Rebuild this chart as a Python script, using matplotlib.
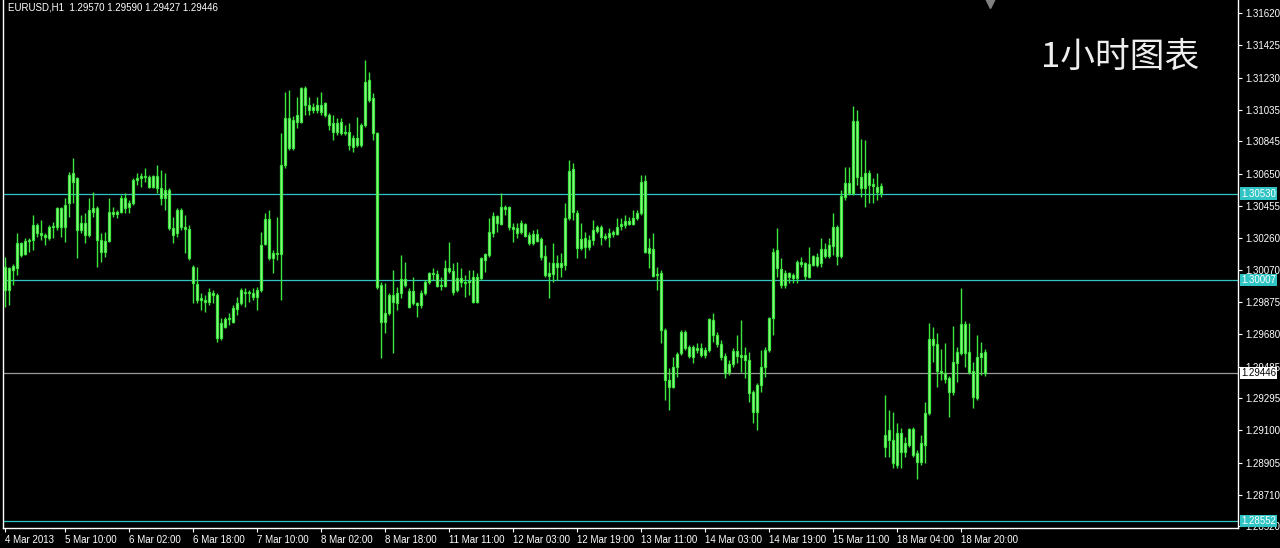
import matplotlib
matplotlib.use("Agg")
import matplotlib.pyplot as plt
import matplotlib.transforms as mtransforms
import numpy as np

# EURUSD H1 bars (left to right)
opens = [
    1.29947, 1.30081, 1.30068, 1.30081, 1.30231, 1.30165, 1.30243, 1.30249, 1.30340, 1.30292,
    1.30280, 1.30262, 1.30328, 1.30328, 1.30443, 1.30328, 1.30473, 1.30654, 1.30624, 1.30310,
    1.30352, 1.30280, 1.30419, 1.30443, 1.30249, 1.30177, 1.30243, 1.30419, 1.30407, 1.30419,
    1.30503, 1.30449, 1.30473, 1.30612, 1.30624, 1.30636, 1.30630, 1.30570, 1.30636, 1.30564,
    1.30503, 1.30551, 1.30322, 1.30292, 1.30431, 1.30328, 1.30316, 1.30087, 1.29984, 1.29887,
    1.29887, 1.29875, 1.29929, 1.29917, 1.29657, 1.29724, 1.29772, 1.29754, 1.29833, 1.29869,
    1.29935, 1.29929, 1.29929, 1.29905, 1.29947, 1.30225, 1.30376, 1.30141, 1.30171, 1.30165,
    1.30703, 1.30986, 1.30805, 1.30962, 1.30962, 1.31167, 1.31065, 1.31035, 1.31065, 1.31023,
    1.31077, 1.31005, 1.30956, 1.30902, 1.30962, 1.30896, 1.30902, 1.30811, 1.30865, 1.30823,
    1.30944, 1.31216, 1.31107, 1.30896, 1.29978, 1.29754, 1.29809, 1.29917, 1.29869, 1.29929,
    1.30014, 1.29941, 1.29869, 1.29869, 1.29857, 1.29929, 1.29996, 1.30050, 1.30044, 1.29972,
    1.29972, 1.30081, 1.30062, 1.29947, 1.30020, 1.29996, 1.29996, 1.30026, 1.29875, 1.30020,
    1.30129, 1.30159, 1.30292, 1.30395, 1.30346, 1.30449, 1.30449, 1.30328, 1.30322, 1.30298,
    1.30346, 1.30280, 1.30231, 1.30286, 1.30255, 1.30153, 1.30032, 1.30044, 1.30111, 1.30087,
    1.30099, 1.30383, 1.30678, 1.30413, 1.30201, 1.30262, 1.30207, 1.30249, 1.30304, 1.30328,
    1.30274, 1.30268, 1.30286, 1.30286, 1.30334, 1.30340, 1.30364, 1.30346, 1.30383, 1.30413,
    1.30606, 1.30171, 1.30195, 1.30038, 1.30050, 1.29706, 1.29404, 1.29362, 1.29483, 1.29567,
    1.29694, 1.29603, 1.29543, 1.29597, 1.29597, 1.29555, 1.29585, 1.29766, 1.29676, 1.29621,
    1.29549, 1.29452, 1.29501, 1.29579, 1.29555, 1.29555, 1.29525, 1.29331, 1.29211, 1.29374,
    1.29483, 1.29585, 1.29778, 1.30189, 1.30075, 1.29978, 1.30050, 1.30020, 1.30020, 1.30117,
    1.30111, 1.30026, 1.30099, 1.30147, 1.30111, 1.30195, 1.30153, 1.30213, 1.30328, 1.30153,
    1.30509, 1.30594, 1.30533, 1.30968, 1.30630, 1.30564, 1.30654, 1.30576, 1.30570, 1.30533,
    1.28999, 1.29102, 1.29041, 1.28891, 1.29084, 1.28969, 1.29011, 1.29108, 1.28963, 1.28909,
    1.29011, 1.29205, 1.29651, 1.29621, 1.29458, 1.29446, 1.29416, 1.29331, 1.29507, 1.29567,
    1.29742, 1.29573, 1.29458, 1.29295, 1.29543, 1.29570,
]
highs = [
    1.30147, 1.30087, 1.30105, 1.30292, 1.30237, 1.30262, 1.30262, 1.30401, 1.30352, 1.30370,
    1.30292, 1.30340, 1.30358, 1.30449, 1.30449, 1.30503, 1.30660, 1.30745, 1.30630, 1.30401,
    1.30413, 1.30503, 1.30539, 1.30455, 1.30292, 1.30298, 1.30503, 1.30449, 1.30431, 1.30521,
    1.30533, 1.30491, 1.30624, 1.30654, 1.30654, 1.30684, 1.30642, 1.30642, 1.30703, 1.30672,
    1.30654, 1.30564, 1.30389, 1.30443, 1.30443, 1.30401, 1.30340, 1.30099, 1.30087, 1.29929,
    1.29917, 1.29960, 1.29947, 1.29929, 1.29778, 1.29784, 1.29809, 1.29857, 1.29905, 1.29960,
    1.29960, 1.29947, 1.29960, 1.29966, 1.30298, 1.30413, 1.30431, 1.30189, 1.30389, 1.30896,
    1.31143, 1.31155, 1.30998, 1.31113, 1.31173, 1.31179, 1.31113, 1.31077, 1.31113, 1.31143,
    1.31083, 1.31017, 1.31005, 1.30986, 1.30986, 1.30944, 1.30956, 1.30884, 1.30992, 1.30956,
    1.31337, 1.31264, 1.31137, 1.30902, 1.29996, 1.29990, 1.29929, 1.30068, 1.29966, 1.30159,
    1.30117, 1.29960, 1.30026, 1.29875, 1.29947, 1.30008, 1.30056, 1.30081, 1.30068, 1.30026,
    1.30129, 1.30237, 1.30111, 1.30117, 1.30081, 1.30038, 1.30068, 1.30068, 1.30050, 1.30147,
    1.30171, 1.30383, 1.30419, 1.30401, 1.30533, 1.30461, 1.30455, 1.30352, 1.30352, 1.30370,
    1.30352, 1.30298, 1.30310, 1.30316, 1.30268, 1.30219, 1.30117, 1.30231, 1.30159, 1.30171,
    1.30473, 1.30733, 1.30715, 1.30431, 1.30352, 1.30298, 1.30280, 1.30370, 1.30340, 1.30340,
    1.30292, 1.30322, 1.30310, 1.30383, 1.30383, 1.30401, 1.30389, 1.30431, 1.30431, 1.30642,
    1.30642, 1.30262, 1.30292, 1.30087, 1.30068, 1.29718, 1.29477, 1.29543, 1.29573, 1.29706,
    1.29706, 1.29615, 1.29615, 1.29627, 1.29627, 1.29603, 1.29778, 1.29809, 1.29694, 1.29645,
    1.29567, 1.29525, 1.29597, 1.29676, 1.29766, 1.29603, 1.29573, 1.29343, 1.29386, 1.29585,
    1.29603, 1.29784, 1.30201, 1.30322, 1.30141, 1.30068, 1.30056, 1.30050, 1.30129, 1.30147,
    1.30117, 1.30207, 1.30159, 1.30171, 1.30262, 1.30231, 1.30262, 1.30413, 1.30340, 1.30551,
    1.30690, 1.30690, 1.31059, 1.31035, 1.30859, 1.30853, 1.30672, 1.30624, 1.30654, 1.30594,
    1.29313, 1.29223, 1.29211, 1.29144, 1.29114, 1.29060, 1.29114, 1.29120, 1.28981, 1.29072,
    1.29271, 1.29748, 1.29724, 1.29688, 1.29591, 1.29627, 1.29428, 1.29730, 1.29603, 1.29960,
    1.29760, 1.29748, 1.29513, 1.29676, 1.29633, 1.29590,
]
lows = [
    1.29845, 1.29857, 1.29978, 1.30038, 1.30147, 1.30159, 1.30177, 1.30189, 1.30268, 1.30249,
    1.30219, 1.30249, 1.30262, 1.30310, 1.30268, 1.30237, 1.30389, 1.30473, 1.30141, 1.30292,
    1.30231, 1.30268, 1.30389, 1.30087, 1.30117, 1.30147, 1.30237, 1.30389, 1.30383, 1.30413,
    1.30413, 1.30413, 1.30461, 1.30582, 1.30570, 1.30600, 1.30564, 1.30564, 1.30533, 1.30461,
    1.30431, 1.30310, 1.30231, 1.30268, 1.30310, 1.30171, 1.30129, 1.29869, 1.29869, 1.29827,
    1.29815, 1.29857, 1.29869, 1.29633, 1.29645, 1.29718, 1.29736, 1.29748, 1.29796, 1.29857,
    1.29845, 1.29875, 1.29887, 1.29827, 1.29935, 1.30219, 1.30129, 1.30050, 1.30129, 1.29887,
    1.30684, 1.30793, 1.30793, 1.30926, 1.30956, 1.31005, 1.31005, 1.31017, 1.31017, 1.31005,
    1.30992, 1.30914, 1.30853, 1.30884, 1.30884, 1.30884, 1.30793, 1.30781, 1.30811, 1.30811,
    1.30932, 1.31083, 1.30853, 1.29953, 1.29537, 1.29688, 1.29796, 1.29567, 1.29827, 1.29899,
    1.29966, 1.29839, 1.29857, 1.29784, 1.29839, 1.29917, 1.29984, 1.30008, 1.29966, 1.29947,
    1.29966, 1.30050, 1.29917, 1.29935, 1.29966, 1.29905, 1.29917, 1.29869, 1.29869, 1.30008,
    1.30056, 1.30147, 1.30268, 1.30298, 1.30340, 1.30401, 1.30310, 1.30237, 1.30262, 1.30286,
    1.30268, 1.30219, 1.30219, 1.30237, 1.30129, 1.30026, 1.29899, 1.29996, 1.30008, 1.30026,
    1.30068, 1.30370, 1.30370, 1.30141, 1.30189, 1.30141, 1.30189, 1.30219, 1.30292, 1.30219,
    1.30249, 1.30207, 1.30268, 1.30280, 1.30310, 1.30322, 1.30340, 1.30340, 1.30370, 1.30401,
    1.30171, 1.30081, 1.30026, 1.29947, 1.29627, 1.29283, 1.29223, 1.29356, 1.29422, 1.29555,
    1.29585, 1.29537, 1.29507, 1.29567, 1.29543, 1.29537, 1.29573, 1.29633, 1.29603, 1.29525,
    1.29416, 1.29434, 1.29483, 1.29507, 1.29452, 1.29416, 1.29271, 1.29144, 1.29102, 1.29331,
    1.29422, 1.29573, 1.29676, 1.30026, 1.29960, 1.29960, 1.29990, 1.29990, 1.29990, 1.30087,
    1.30008, 1.30020, 1.30093, 1.30087, 1.30087, 1.30141, 1.30141, 1.30159, 1.30099, 1.30141,
    1.30491, 1.30521, 1.30521, 1.30582, 1.30509, 1.30449, 1.30473, 1.30473, 1.30491, 1.30509,
    1.28939, 1.28939, 1.28872, 1.28872, 1.28872, 1.28939, 1.28999, 1.28939, 1.28806, 1.28891,
    1.28903, 1.29193, 1.29513, 1.29362, 1.29404, 1.29386, 1.29181, 1.29313, 1.29392, 1.29555,
    1.29483, 1.29440, 1.29235, 1.29283, 1.29434, 1.29427,
]
closes = [
    1.30087, 1.29947, 1.30093, 1.30231, 1.30159, 1.30243, 1.30249, 1.30340, 1.30292, 1.30280,
    1.30268, 1.30328, 1.30334, 1.30443, 1.30328, 1.30461, 1.30642, 1.30600, 1.30310, 1.30352,
    1.30280, 1.30431, 1.30443, 1.30249, 1.30177, 1.30243, 1.30419, 1.30407, 1.30419, 1.30503,
    1.30443, 1.30473, 1.30612, 1.30624, 1.30636, 1.30630, 1.30570, 1.30636, 1.30564, 1.30503,
    1.30551, 1.30322, 1.30280, 1.30431, 1.30328, 1.30316, 1.30141, 1.29990, 1.29887, 1.29899,
    1.29875, 1.29935, 1.29917, 1.29657, 1.29748, 1.29772, 1.29778, 1.29839, 1.29869, 1.29947,
    1.29929, 1.29935, 1.29905, 1.29947, 1.30219, 1.30376, 1.30141, 1.30171, 1.30165, 1.30703,
    1.30986, 1.30805, 1.30974, 1.31005, 1.31167, 1.31065, 1.31035, 1.31053, 1.31035, 1.31065,
    1.31005, 1.30944, 1.30902, 1.30956, 1.30896, 1.30902, 1.30823, 1.30865, 1.30823, 1.30944,
    1.31204, 1.31095, 1.30896, 1.29966, 1.29754, 1.29809, 1.29917, 1.29875, 1.29929, 1.30014,
    1.29978, 1.29845, 1.29941, 1.29857, 1.29929, 1.29996, 1.30050, 1.30044, 1.29972, 1.29978,
    1.30081, 1.30062, 1.29935, 1.30020, 1.29996, 1.29990, 1.30002, 1.29875, 1.30026, 1.30141,
    1.30165, 1.30298, 1.30395, 1.30352, 1.30449, 1.30437, 1.30328, 1.30316, 1.30292, 1.30352,
    1.30274, 1.30231, 1.30286, 1.30243, 1.30147, 1.30038, 1.30050, 1.30111, 1.30087, 1.30111,
    1.30383, 1.30666, 1.30419, 1.30201, 1.30255, 1.30207, 1.30249, 1.30310, 1.30328, 1.30268,
    1.30262, 1.30292, 1.30298, 1.30328, 1.30346, 1.30364, 1.30346, 1.30383, 1.30413, 1.30600,
    1.30177, 1.30201, 1.30032, 1.30044, 1.29706, 1.29404, 1.29362, 1.29483, 1.29561, 1.29694,
    1.29597, 1.29549, 1.29603, 1.29585, 1.29555, 1.29585, 1.29772, 1.29676, 1.29621, 1.29543,
    1.29446, 1.29501, 1.29579, 1.29549, 1.29543, 1.29525, 1.29325, 1.29211, 1.29374, 1.29483,
    1.29585, 1.29778, 1.30177, 1.30081, 1.29978, 1.30050, 1.30026, 1.30038, 1.30117, 1.30105,
    1.30032, 1.30105, 1.30153, 1.30099, 1.30195, 1.30153, 1.30219, 1.30328, 1.30153, 1.30515,
    1.30594, 1.30533, 1.30968, 1.30630, 1.30564, 1.30654, 1.30582, 1.30588, 1.30539, 1.30576,
    1.29072, 1.29041, 1.28903, 1.29084, 1.28969, 1.29023, 1.29108, 1.28951, 1.28909, 1.29023,
    1.29205, 1.29651, 1.29615, 1.29458, 1.29446, 1.29410, 1.29331, 1.29513, 1.29573, 1.29742,
    1.29567, 1.29452, 1.29301, 1.29543, 1.29567, 1.29446,
]

time_ticks = [0, 15, 31, 47, 63, 79, 95, 111, 127, 143, 159, 175, 191, 207, 223, 239]
time_labels = ["4 Mar 2013", "5 Mar 10:00", "6 Mar 02:00", "6 Mar 18:00", "7 Mar 10:00",
               "8 Mar 02:00", "8 Mar 18:00", "11 Mar 11:00", "12 Mar 03:00", "12 Mar 19:00",
               "13 Mar 11:00", "14 Mar 03:00", "14 Mar 19:00", "15 Mar 11:00", "18 Mar 04:00",
               "18 Mar 20:00"]
price_ticks = [1.31620, 1.31425, 1.31230, 1.31035, 1.30845, 1.30650, 1.30455, 1.30260,
               1.30070, 1.29875, 1.29680, 1.29485, 1.29295, 1.29100, 1.28905, 1.28710, 1.28520]
levels = [1.30530, 1.30007, 1.28552]
bid = 1.29446

FONT = "Liberation Sans"
CANDLE = "#3ce63c"
BODY = "#a6f7a0"
LEVEL = "#30c4c4"
FG = "white"

fig = plt.figure(figsize=(12.8, 5.48), dpi=100, facecolor="black")
ax = fig.add_axes([3 / 1280, 20 / 548, 1235 / 1280, 528 / 548])
ax.set_facecolor("black")

x = np.arange(len(opens))
o, h, l, c = (np.array(v) for v in (opens, highs, lows, closes))
lo = np.minimum(o, c)
size = np.maximum(np.abs(c - o), 0.00002)
ax.vlines(x, l, h, color=CANDLE, lw=1.0, zorder=3)
ax.bar(x, size, bottom=lo, width=0.62, facecolor=BODY, edgecolor=CANDLE,
       linewidth=0.9, zorder=4)

for lv in levels:
    ax.axhline(lv, color=LEVEL, lw=0.9, zorder=2)
ax.axhline(bid, color="#9a9a9a", lw=0.9, zorder=2)

ax.set_xlim(-0.5, 308.25)
ax.set_ylim(1.28510, 1.31699)

# price scale on the right
ax.yaxis.tick_right()
ax.set_yticks(price_ticks)
ax.set_yticklabels([f"{p:.5f}" for p in price_ticks], fontsize=7, color=FG, family=FONT)
ax.tick_params(axis="y", colors=FG, length=3, width=0.8, pad=2)

ax.set_xticks(time_ticks)
ax.set_xticklabels(time_labels, fontsize=7, color=FG, family=FONT, ha="left")
ax.tick_params(axis="x", colors=FG, length=3, width=0.8, pad=2)

for side in ("left", "bottom", "right"):
    ax.spines[side].set_color(FG)
    ax.spines[side].set_linewidth(1)
ax.spines["top"].set_visible(False)

# labelled levels on the price scale
tr = mtransforms.blended_transform_factory(ax.transAxes, ax.transData)
for lv in levels:
    ax.text(1.0025, lv, f"{lv:.5f}", transform=tr, ha="left", va="center", fontsize=7,
            family=FONT, color="white", zorder=6,
            bbox=dict(boxstyle="square,pad=0.12", fc=LEVEL, ec="none"))
ax.text(1.0025, bid, f"{bid:.5f}", transform=tr, ha="left", va="center", fontsize=7,
        family=FONT, color="black", zorder=6,
        bbox=dict(boxstyle="square,pad=0.12", fc="white", ec="none"))

# chart shift marker
tr2 = mtransforms.blended_transform_factory(ax.transData, ax.transAxes)
ax.plot([246.3], [1 - 3 / 528], marker="v", ms=7, color="#808080", transform=tr2,
        clip_on=False, zorder=7)

fig.text(8 / 1280, 1 - 8 / 548,
         f"EURUSD,H1  {opens[-1]:.5f} {highs[-1]:.5f} {lows[-1]:.5f} {closes[-1]:.5f}",
         fontsize=7, color=FG, family=FONT, va="center")
fig.text(1120 / 1280, 1 - 57 / 548, "1小时图表", fontsize=25, color="#eeeeee",
         family=["Noto Sans CJK SC"], weight="light", ha="center", va="center")

fig.savefig("out.png", dpi=100, facecolor="black")
